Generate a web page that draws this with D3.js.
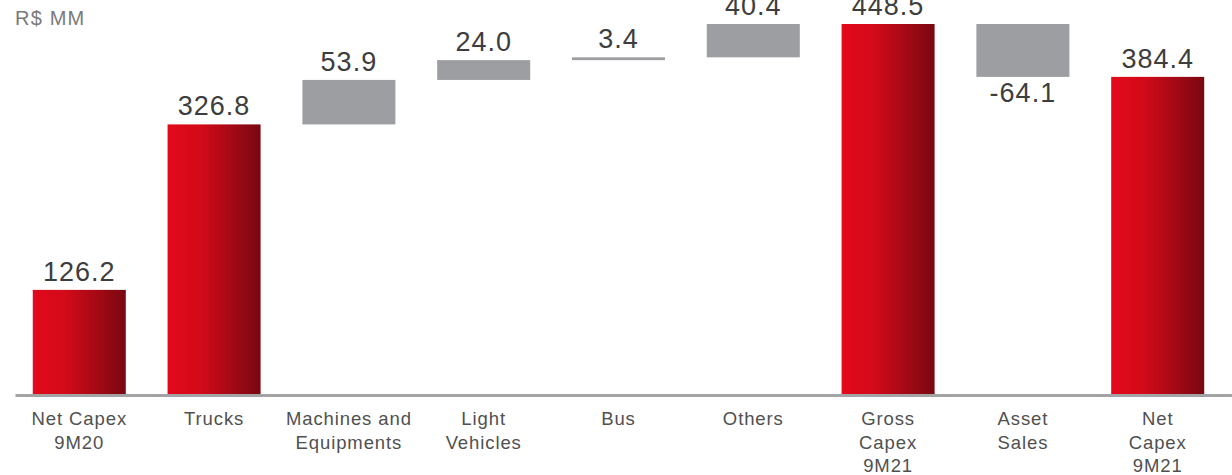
<!DOCTYPE html>
<html>
<head>
<meta charset="utf-8">
<script src="https://cdn.jsdelivr.net/npm/d3@7"></script>
<style>
  html, body { margin: 0; padding: 0; background: #fff; }
  svg { display: block; font-family: "Liberation Sans", Arial, Helvetica, sans-serif; }
</style>
</head>
<body>
<div class="main-container"></div>
<script>
// chart data
const categories = ['Net Capex\n9M20', 'Trucks', 'Machines and\nEquipments', 'Light\nVehicles', 'Bus',
    'Others', 'Gross\nCapex\n9M21', 'Asset\nSales', 'Net\nCapex\n9M21'];
const values = [126.2, 326.8, 53.9, 24.0, 3.4, 40.4, 448.5, -64.1, 384.4];
// total = bar from zero, delta = floating step on the running sum
const kinds = ['total', 'total', 'delta', 'delta', 'delta', 'delta', 'total', 'delta', 'total'];
const unitLabel = 'R$ MM';

const width = 1232;
const height = 475;
const baseY = 394;

// running sum for the waterfall
let running = 0;
const bars = values.map((v, i) => {
    let start, end;
    if (kinds[i] === 'total') {
        start = 0; end = v; running = v;
    } else {
        start = running; end = running + v; running = end;
    }
    return {cat: categories[i], value: v, kind: kinds[i], start: start, end: end};
});

const svg = d3.select('.main-container').append('svg')
    .attr('width', width)
    .attr('height', height);

const grad = svg.append('defs').append('linearGradient')
    .attr('id', 'redGrad')
    .attr('x1', '0').attr('x2', '1').attr('y1', '0').attr('y2', '0');
grad.append('stop').attr('offset', '0%').attr('stop-color', '#e2091b');
grad.append('stop').attr('offset', '35%').attr('stop-color', '#d30a19');
grad.append('stop').attr('offset', '100%').attr('stop-color', '#780811');

const x = d3.scaleBand()
    .domain(categories)
    .range([15, width])
    .paddingInner(0.31)
    .paddingOuter(0.169)
    .align(0.39);

const y = d3.scaleLinear()
    .domain([0, 448.5])
    .range([baseY, 24]);

// bars
svg.append('g').selectAll('rect')
    .data(bars)
    .join('rect')
    .attr('x', d => x(d.cat))
    .attr('width', x.bandwidth())
    .attr('y', d => y(Math.max(d.start, d.end)))
    .attr('height', d => Math.max(2, Math.abs(y(d.start) - y(d.end))))
    .attr('fill', d => d.kind === 'total' ? 'url(#redGrad)' : '#9c9ea1');

// axis
const axis = svg.append('g')
    .attr('transform', `translate(0,${baseY + 1})`)
    .call(d3.axisBottom(x).tickSize(0).tickPadding(0).tickFormat(''));
axis.select('.domain')
    .attr('stroke', '#a2a3a5')
    .attr('stroke-width', 3);

axis.selectAll('.tick text').each(function(d) {
    const t = d3.select(this)
        .attr('fill', '#505050')
        .attr('font-size', '18.5px')
        .attr('letter-spacing', '0.9px')
        .attr('y', 0)
        .attr('dy', null);
    d.split('\n').forEach((line, i) => {
        t.append('tspan')
            .attr('x', 0)
            .attr('y', 30 + i * 23.5)
            .text(line);
    });
});

// value labels
svg.append('g').selectAll('text')
    .data(bars)
    .join('text')
    .attr('x', d => x(d.cat) + x.bandwidth() / 2)
    .attr('y', d => d.value >= 0 ? y(Math.max(d.start, d.end)) - 9 : y(Math.min(d.start, d.end)) + 25)
    .attr('text-anchor', 'middle')
    .attr('font-size', '27px')
    .attr('letter-spacing', '1px')
    .attr('fill', '#3d3d3d')
    .text(d => d.value.toFixed(1));

// unit
svg.append('text')
    .attr('x', 15)
    .attr('y', 25)
    .attr('font-size', '20px')
    .attr('letter-spacing', '1.2px')
    .attr('fill', '#7a7a7a')
    .text(unitLabel);
</script>
</body>
</html>
